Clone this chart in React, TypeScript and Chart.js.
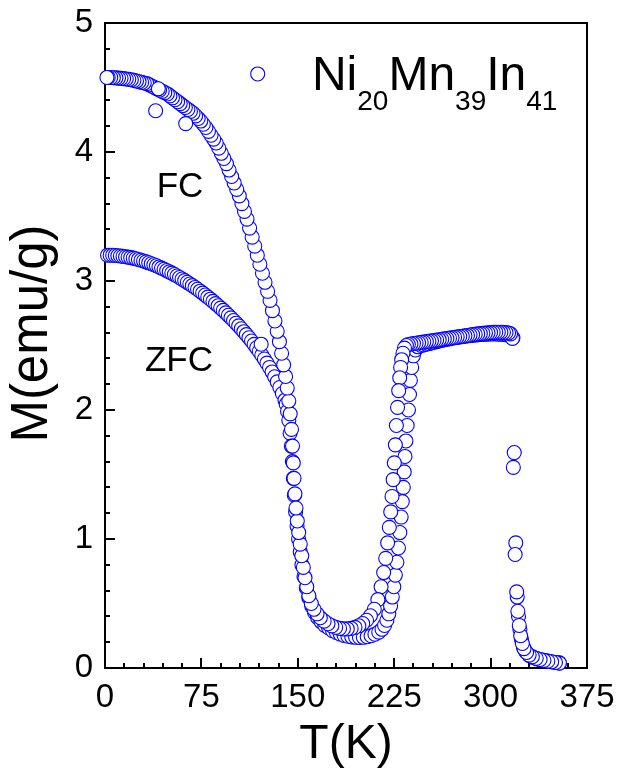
import React, { useEffect, useRef } from "react";
import { Chart, registerables } from "chart.js";

Chart.register(...registerables);

// ---- data -----------------------------------------------------------
const xTickValues = [0, 75, 150, 225, 300, 375];
const yTickValues = [0, 1, 2, 3, 4, 5];
const xMinorStep = 15;
const yMinorStep = 0.2;
const xTitle = "T(K)";
const yTitle = "M(emu/g)";

// ZFC: measured on heating (T in K, M in emu/g)
const zfcData: [number, number][] = [
  [2, 3.2], [4, 3.2], [6, 3.2], [8, 3.198], [10, 3.196], [12, 3.194], [14, 3.191], [16, 3.188], [18, 3.185], [20, 3.181],
  [22, 3.177], [24, 3.172], [26, 3.167], [28, 3.161], [30, 3.155], [32, 3.148], [34, 3.141], [36, 3.134], [38, 3.126], [40, 3.118],
  [42, 3.109], [44, 3.1], [46, 3.091], [48, 3.081], [50, 3.071], [52, 3.061], [54, 3.05], [56, 3.039], [58, 3.027], [60, 3.015],
  [62, 3.003], [64, 2.99], [66, 2.977], [68, 2.964], [70, 2.95], [72, 2.936], [74, 2.921], [76, 2.906], [78, 2.891], [80, 2.875],
  [82, 2.859], [84, 2.842], [86, 2.825], [88, 2.808], [90, 2.79], [92, 2.772], [94, 2.753], [96, 2.734], [98, 2.714], [100, 2.694],
  [102, 2.673], [104, 2.652], [106, 2.63], [108, 2.607], [110, 2.584], [112, 2.56], [114, 2.535], [116, 2.509], [118, 2.482], [120, 2.454],
  [122, 2.425], [124, 2.395], [126, 2.363], [128, 2.33], [130, 2.295], [132, 2.258], [134, 2.218], [136, 2.175], [138, 2.128], [140, 2.076],
  [141, 2.045], [142, 1.99], [143, 1.92], [144, 1.82], [145, 1.72], [145.8, 1.6], [146.5, 1.47], [147.3, 1.34], [148.3, 1.21], [149.4, 1.1],
  [150.6, 1.0], [151.9, 0.9], [153.2, 0.8], [154.8, 0.71], [156.6, 0.62], [158.6, 0.545], [160.8, 0.48], [163, 0.43], [165.5, 0.39], [168, 0.36],
  [171, 0.33], [174, 0.31], [177, 0.29], [180, 0.275], [183, 0.263], [186, 0.253], [189, 0.246], [192, 0.241], [195, 0.238], [198, 0.237],
  [201, 0.238], [204, 0.242], [207, 0.25], [210, 0.262], [213, 0.278], [215.5, 0.3], [217.5, 0.33], [219.3, 0.37], [220.8, 0.42], [222.2, 0.48],
  [223.5, 0.55], [224.7, 0.63], [225.9, 0.72], [227.1, 0.82], [228.3, 0.93], [229.4, 1.05], [230.4, 1.17], [231.3, 1.29], [232.1, 1.4], [232.8, 1.52],
  [233.4, 1.64], [234.1, 1.76], [235.1, 1.88], [236.1, 2.0], [236.9, 2.12], [237.6, 2.23], [238.6, 2.33], [239.9, 2.42], [241.5, 2.465], [243.5, 2.49],
  [246, 2.5], [248, 2.505], [250, 2.51], [252, 2.515], [254, 2.52], [256, 2.525], [258, 2.53], [260, 2.535], [262, 2.54], [264, 2.544],
  [266, 2.548], [268, 2.552], [270, 2.556], [272, 2.56], [274, 2.563], [276, 2.566], [278, 2.569], [280, 2.572], [282, 2.575], [284, 2.577],
  [286, 2.579], [288, 2.581], [290, 2.583], [292, 2.585], [294, 2.586], [296, 2.587], [298, 2.588], [300, 2.589], [302, 2.589], [304, 2.589],
  [306, 2.588], [308, 2.587], [310, 2.585], [312, 2.583], [314, 2.58], [316, 2.575], [317.4, 2.56], [318.4, 1.67], [319.6, 0.97], [320.7, 0.55],
  [321.7, 0.4], [322.8, 0.3], [324, 0.22], [325.5, 0.165], [327.5, 0.125], [330, 0.098], [333, 0.082], [336, 0.071], [339, 0.063], [342, 0.057],
  [345, 0.052], [348, 0.047], [351, 0.043], [353.5, 0.04],
];

// FC: measured on cooling from 353 K
const fcData: [number, number][] = [
  [353.5, 0.038], [350.5, 0.043], [347.5, 0.048], [344.5, 0.053], [341.5, 0.059], [338.5, 0.066], [335.5, 0.075], [332.5, 0.087], [330, 0.1], [328, 0.12],
  [326, 0.15], [324.7, 0.19], [323.4, 0.25], [322.3, 0.33], [321.2, 0.44], [320.3, 0.59], [319.1, 0.88], [317.7, 1.555], [317, 2.555], [315.5, 2.59],
  [314, 2.597], [312, 2.6], [310, 2.602], [308, 2.603], [306, 2.603], [304, 2.603], [302, 2.602], [300, 2.6], [298, 2.598], [296, 2.596],
  [294, 2.594], [292, 2.592], [290, 2.59], [288, 2.587], [286, 2.584], [284, 2.581], [282, 2.578], [280, 2.575], [278, 2.572], [276, 2.569],
  [274, 2.566], [272, 2.563], [270, 2.56], [268, 2.557], [266, 2.554], [264, 2.551], [262, 2.548], [260, 2.545], [258, 2.542], [256, 2.539],
  [254, 2.536], [252, 2.533], [250, 2.53], [248, 2.527], [246, 2.524], [244, 2.521], [242, 2.518], [240, 2.515], [238, 2.512], [236, 2.508],
  [234.5, 2.5], [233, 2.48], [231.8, 2.44], [230.8, 2.39], [230, 2.33], [229.3, 2.25], [228.5, 2.15], [227.6, 2.02], [226.7, 1.88], [225.9, 1.73],
  [225.1, 1.59], [224.2, 1.46], [223.3, 1.33], [222.3, 1.21], [221.2, 1.09], [219.9, 0.97], [218.4, 0.85], [216.8, 0.74], [214.8, 0.63], [212.3, 0.53],
  [209.5, 0.455], [206.5, 0.405], [203.5, 0.37], [200.5, 0.345], [197.5, 0.327], [194.5, 0.315], [191.5, 0.307], [188.5, 0.303], [185.5, 0.303], [182.5, 0.307],
  [179.5, 0.315], [176.5, 0.327], [173.5, 0.343], [170.5, 0.363], [167.5, 0.39], [165, 0.42], [162.6, 0.455], [160.5, 0.5], [158.6, 0.56], [157, 0.63],
  [155.6, 0.7], [154.3, 0.78], [153.1, 0.87], [151.9, 0.96], [150.7, 1.05], [149.6, 1.14], [148.6, 1.24], [147.8, 1.35], [147.1, 1.47], [146.5, 1.59],
  [145.9, 1.72], [145.1, 1.85], [144.1, 1.97], [143, 2.07], [141.8, 2.17], [140.5, 2.26], [139, 2.35], [137.4, 2.44], [135.7, 2.53], [134, 2.61],
  [132.2, 2.69], [130.3, 2.77], [128.4, 2.85], [126.5, 2.92], [124.5, 2.99], [122.5, 3.06], [120.5, 3.13], [118.5, 3.2], [116.5, 3.27], [114.5, 3.34],
  [112.5, 3.41], [110.5, 3.48], [108.5, 3.54], [106.5, 3.6], [104.5, 3.66], [102.5, 3.71], [100.5, 3.76], [98.5, 3.81], [96.5, 3.86], [94.5, 3.91],
  [92.5, 3.95], [90.5, 3.99], [88.5, 4.03], [86.5, 4.07], [84.5, 4.1], [82.5, 4.13], [80.5, 4.16], [78.5, 4.19], [76.5, 4.215], [74.5, 4.24],
  [72.5, 4.26], [70.5, 4.28], [68.5, 4.3], [66.5, 4.315], [64.5, 4.33], [62.5, 4.345], [60.5, 4.36], [58.5, 4.375], [56.5, 4.39], [54.5, 4.405],
  [52.5, 4.42], [50.5, 4.435], [48.5, 4.45], [46.5, 4.46], [44.5, 4.47], [42.5, 4.48], [40.5, 4.49], [38.5, 4.5], [36.5, 4.51], [34.5, 4.52],
  [32.5, 4.53], [30.5, 4.535], [28.5, 4.54], [26.5, 4.545], [24.5, 4.55], [22.5, 4.555], [20.5, 4.56], [18.5, 4.563], [16.5, 4.566], [14.5, 4.569],
  [12.5, 4.571], [10.5, 4.573], [8.5, 4.575], [6.5, 4.576], [4.5, 4.577], [2.5, 4.578], [1.5, 4.578],
];

// stray points that lie on top of the curves
const strayData: [number, number][] = [
  [41.5, 4.49], [62.8, 4.22], [39.4, 4.32], [118.8, 4.605], [121.5, 2.51],
];

const formulaParts: [string, boolean][] = [
  ["Ni", false], ["20", true], ["Mn", false], ["39", true], ["In", false], ["41", true],
];

const FONT = '"Liberation Sans", Arial, Helvetica, sans-serif';
const BLUE = "#0000ff";

const framePlugin = {
  id: "frame",
  beforeDatasetsDraw(chart: any) {
    const { ctx, chartArea: a, scales } = chart;
    const x = scales.x;
    const y = scales.y;
    ctx.save();
    ctx.strokeStyle = "#000";
    ctx.lineWidth = 2;
    ctx.strokeRect(a.left, a.top, a.right - a.left, a.bottom - a.top);
    ctx.beginPath();
    for (let i = 0; x.min + i * xMinorStep <= x.max + 1e-6; i++) {
      const v = x.min + i * xMinorStep;
      const px = Math.round(x.getPixelForValue(v));
      const major = xTickValues.includes(v);
      ctx.moveTo(px, a.bottom);
      ctx.lineTo(px, a.bottom - (major ? 10 : 5));
    }
    for (let i = 0; y.min + i * yMinorStep <= y.max + 1e-6; i++) {
      const v = Math.round((y.min + i * yMinorStep) * 10) / 10;
      const py = Math.round(y.getPixelForValue(v));
      const major = yTickValues.includes(v);
      ctx.moveTo(a.left, py);
      ctx.lineTo(a.left + (major ? 10 : 5), py);
    }
    ctx.stroke();

    // axis titles
    ctx.fillStyle = "#000";
    ctx.textBaseline = "alphabetic";
    ctx.textAlign = "center";
    ctx.font = `48px ${FONT}`;
    ctx.fillText(xTitle, (a.left + a.right) / 2, a.bottom + 90);
    ctx.save();
    ctx.translate(a.left - 58, (a.top + a.bottom) / 2 - 12);
    ctx.rotate(-Math.PI / 2);
    ctx.font = `51px ${FONT}`;
    ctx.fillText(yTitle, 0, 0);
    ctx.restore();
    ctx.restore();
  },
  afterDraw(chart: any) {
    const { ctx, scales } = chart;
    const x = scales.x;
    const y = scales.y;
    ctx.save();
    ctx.fillStyle = "#000";
    ctx.textBaseline = "alphabetic";
    ctx.textAlign = "left";
    ctx.font = `35px ${FONT}`;
    ctx.fillText("FC", x.getPixelForValue(40.2), y.getPixelForValue(3.655));
    ctx.fillText("ZFC", x.getPixelForValue(31.1), y.getPixelForValue(2.3));
    let cx = x.getPixelForValue(161.0);
    const by = y.getPixelForValue(4.481);
    for (const [text, sub] of formulaParts) {
      ctx.font = sub ? `28px ${FONT}` : `48px ${FONT}`;
      ctx.fillText(text, cx, sub ? by + 20 : by);
      cx += ctx.measureText(text).width;
    }
    ctx.restore();
  },
};

const pointStyle = {
  showLine: false,
  pointStyle: "circle",
  pointRadius: 7,
  pointBorderWidth: 1.1,
  borderColor: BLUE,
  backgroundColor: "#ffffff",
  pointBackgroundColor: "#ffffff",
  pointBorderColor: BLUE,
  clip: false as any,
};

export default function App() {
  const ref = useRef<HTMLCanvasElement | null>(null);
  useEffect(() => {
    if (!ref.current) return;
    Chart.defaults.font.family = FONT;
    const chart = new Chart(ref.current, {
      type: "scatter",
      data: {
        datasets: [
          { label: "stray", data: strayData.map(([t, m]) => ({ x: t, y: m })), order: 0, ...pointStyle },
          { label: "FC", data: fcData.map(([t, m]) => ({ x: t, y: m })), order: 1, ...pointStyle },
          { label: "ZFC", data: zfcData.map(([t, m]) => ({ x: t, y: m })), order: 2, ...pointStyle },
        ],
      },
      options: {
        animation: false,
        responsive: false,
        maintainAspectRatio: false,
        devicePixelRatio: 1,
        layout: { autoPadding: false, padding: { top: 23, right: 33, left: 0, bottom: 0 } },
        plugins: { legend: { display: false }, tooltip: { enabled: false } },
        events: [],
        scales: {
          x: {
            type: "linear",
            min: xTickValues[0],
            max: xTickValues[xTickValues.length - 1],
            afterBuildTicks: (s: any) => {
              s.ticks = xTickValues.map((v) => ({ value: v }));
            },
            afterFit: (s: any) => {
              s.height = 104;
              s.paddingLeft = 0;
              s.paddingRight = 0;
            },
            ticks: { font: { size: 33 }, color: "#000", padding: 10, autoSkip: false, maxRotation: 0 },
            grid: { display: false, drawTicks: false },
            border: { display: false },
            title: { display: false },
          },
          y: {
            type: "linear",
            min: yTickValues[0],
            max: yTickValues[yTickValues.length - 1],
            afterBuildTicks: (s: any) => {
              s.ticks = yTickValues.map((v) => ({ value: v }));
            },
            afterFit: (s: any) => {
              s.width = 105;
              s.paddingTop = 0;
              s.paddingBottom = 0;
            },
            ticks: { font: { size: 33 }, color: "#000", padding: 12, autoSkip: false },
            grid: { display: false, drawTicks: false },
            border: { display: false },
            title: { display: false },
          },
        },
      } as any,
      plugins: [framePlugin],
    });
    return () => chart.destroy();
  }, []);
  return (
    <div style={{ position: "absolute", left: 0, top: 0, width: 620, height: 772, background: "#fff" }}>
      <canvas ref={ref} width={620} height={772} style={{ width: 620, height: 772, display: "block" }} />
    </div>
  );
}
